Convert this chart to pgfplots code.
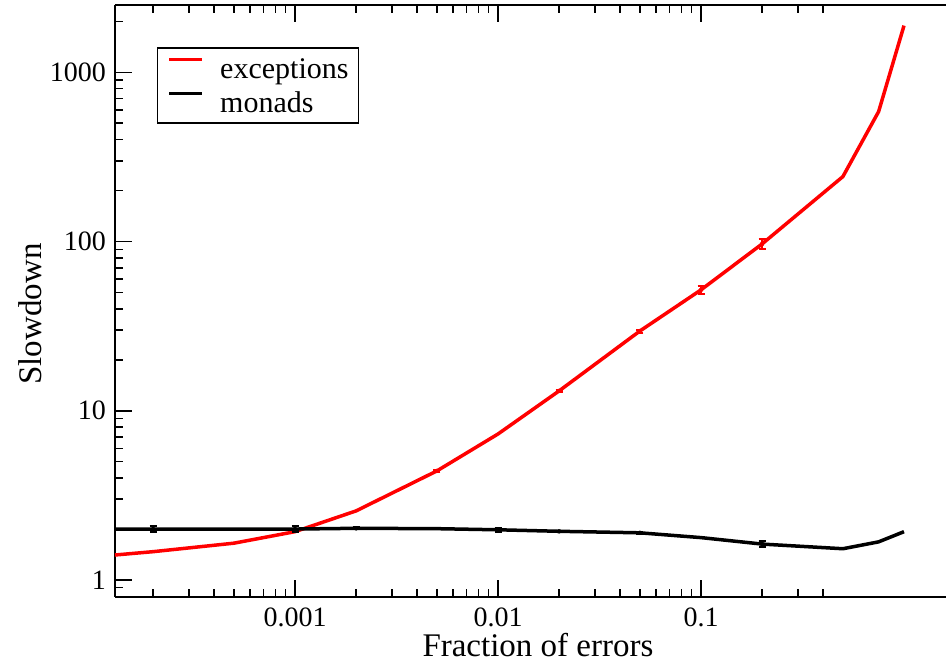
\documentclass[border=0pt]{standalone}
\usepackage{fontspec}
\setmainfont{Liberation Serif}
\usepackage{pgfplots}
\pgfplotsset{compat=1.18}
\begin{document}
\begin{tikzpicture}
\begin{axis}[
  at={(115bp,66.3bp)}, anchor=south west,
  scale only axis, width=831bp, height=591.7bp,
  xmode=log, ymode=log,
  xmin=1.298e-4, xmax=1.61, ymin=0.7967, ymax=2499,
  axis x line*=box, axis y line*=left,
  axis line style={line width=2bp, black},
  xtick={0.001,0.01,0.1}, xticklabels={0.001,0.01,0.1},
  minor xtick={2e-4,3e-4,4e-4,5e-4,6e-4,7e-4,8e-4,9e-4,0.002,0.003,0.004,0.005,0.006,0.007,0.008,0.009,0.02,0.03,0.04,0.05,0.06,0.07,0.08,0.09,0.2,0.3,0.4},
  ytick={1,10,100,1000}, yticklabels={1,10,100,1000},
  minor ytick={0.9,2,3,4,5,6,7,8,9,20,30,40,50,60,70,80,90,200,300,400,500,600,700,800,900,2000},
  ytick pos=left,
  tick align=inside, major tick length=17bp, minor tick length=8bp,
  every tick/.style={black, line width=1.5bp},
  /pgf/number format/assume math mode=true,
  xticklabel style={font=\fontsize{28bp}{34bp}\selectfont, inner sep=0pt, anchor=north, yshift=-11.3bp},
  yticklabel style={font=\fontsize{28bp}{34bp}\selectfont, inner sep=0pt, anchor=east, xshift=-9bp},
  xlabel={Fraction of errors},
  xlabel style={at={(axis description cs:0.509,-0.1014)}, anchor=base, inner sep=0pt, font=\fontsize{33bp}{40bp}\selectfont},
  ylabel={Slowdown},
  ylabel style={at={(axis description cs:-0.0882,0.4778)}, rotate=0, anchor=base, inner sep=0pt, font=\fontsize{33bp}{40bp}\selectfont},
  legend style={at={(axis description cs:0.0505,0.929)}, anchor=north west, draw=black, line width=1.5bp,
    font=\fontsize{30bp}{36bp}\selectfont, inner xsep=10bp, inner ysep=6bp,
    nodes={inner sep=0pt, text height=25bp, text depth=4bp, anchor=west},
    column sep=16bp, row sep=5bp},
  legend cell align=left,
  legend image code/.code={\draw[#1, line width=3.5bp] (0bp,8.7bp) -- (33bp,8.7bp);},
]
\addplot[red, line width=3.5bp] coordinates {
  (0.0001,1.367) (0.0002,1.47) (0.0005,1.65) (0.001,1.93) (0.002,2.56)
  (0.005,4.41) (0.01,7.29) (0.02,13.1) (0.05,29.6) (0.1,51.8)
  (0.2,96.8) (0.5,242) (0.75,586) (1.0,1888)
};
\addlegendentry{exceptions}
\addplot[black, line width=3.5bp] coordinates {
  (0.0001,2.0) (0.0002,2.0) (0.0005,2.0) (0.001,2.0) (0.002,2.02)
  (0.005,2.01) (0.01,1.98) (0.02,1.94) (0.05,1.90) (0.1,1.78)
  (0.2,1.63) (0.5,1.53) (0.75,1.68) (1.0,1.93)
};
\addlegendentry{monads}
% error bars where visible
\addplot[red, draw=red, forget plot, only marks, mark=none,
  error bars/.cd, y dir=both, y explicit,
  error bar style={draw=red, line width=2bp},
  error mark options={draw=red, fill=red, rotate=90, mark size=3.5bp, line width=2bp}] coordinates {
  (0.005,4.41) +- (0,0.05)
  (0.02,13.1) +- (0,0.2)
  (0.05,29.6) +- (0,0.6)
  (0.1,51.8) +- (0,2.5)
  (0.2,96.8) +- (0,7)
};
\addplot[black, forget plot, only marks, mark=none,
  error bars/.cd, y dir=both, y explicit,
  error bar style={draw=black, line width=2bp},
  error mark options={draw=black, rotate=90, mark size=3.5bp, line width=2bp}] coordinates {
  (0.0002,2.0) +- (0,0.08)
  (0.001,2.0) +- (0,0.08)
  (0.002,2.02) +- (0,0.03)
  (0.01,1.98) +- (0,0.06)
  (0.02,1.94) +- (0,0.02)
  (0.05,1.90) +- (0,0.02)
  (0.2,1.63) +- (0,0.06)
};
\end{axis}
\pgfresetboundingbox
\useasboundingbox (0,0) rectangle (946bp,663bp);
\end{tikzpicture}
\end{document}
